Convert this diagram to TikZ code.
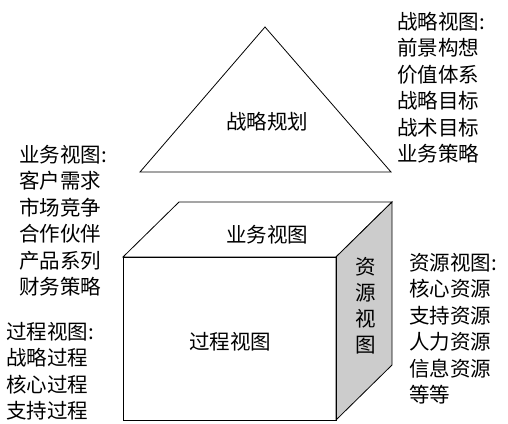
\documentclass[tikz,border=0pt]{standalone}
\usepackage{fontspec}
\newfontfamily\cjk{Noto Sans CJK SC}
\usetikzlibrary{positioning}

\tikzset{
  viewtext/.style={font=\cjk\fontsize{20.5}{26.5}\selectfont, inner sep=0pt, align=left},
  facetext/.style={font=\cjk\fontsize{20.5}{26}\selectfont, inner sep=0pt, align=center}
}

\begin{document}
\begin{tikzpicture}[x=1pt,y=-1pt,line width=0.8pt]
\useasboundingbox (0,0) rectangle (508,423);

% Strategy pyramid
\draw (140,172) -- (265,27) -- (391,172) -- cycle;
\node[facetext] (strategy) at (267,122) {战略规划};

% Cube
\draw (123,257) -- (179,202) -- (392,202) -- (336,257) -- cycle;
\draw[fill=gray!40] (336,257) -- (392,202) -- (392,365) -- (336,420) -- cycle;
\draw (123,257) rectangle (336,420);
\node[facetext] (business) at (267,235) {业务视图};
\node[facetext] (process) at (230,342) {过程视图};
\node[facetext] (resource) at (366,306) {资\\源\\视\\图};

% Side lists (base = last line)
\node[viewtext,anchor=base west] (bizlist) at (19,294.5) {业务视图:\\客户需求\\市场竞争\\合作伙伴\\产品系列\\财务策略};
\node[viewtext,anchor=base west] (proclist) at (6,418.5) {过程视图:\\战略过程\\核心过程\\支持过程};
\node[viewtext,anchor=base west] (stratlist) at (397,161.5) {战略视图:\\前景构想\\价值体系\\战略目标\\战术目标\\业务策略};
\node[viewtext,anchor=base west] (reslist) at (409,402.5) {资源视图:\\核心资源\\支持资源\\人力资源\\信息资源\\等等};
\end{tikzpicture}
\end{document}
